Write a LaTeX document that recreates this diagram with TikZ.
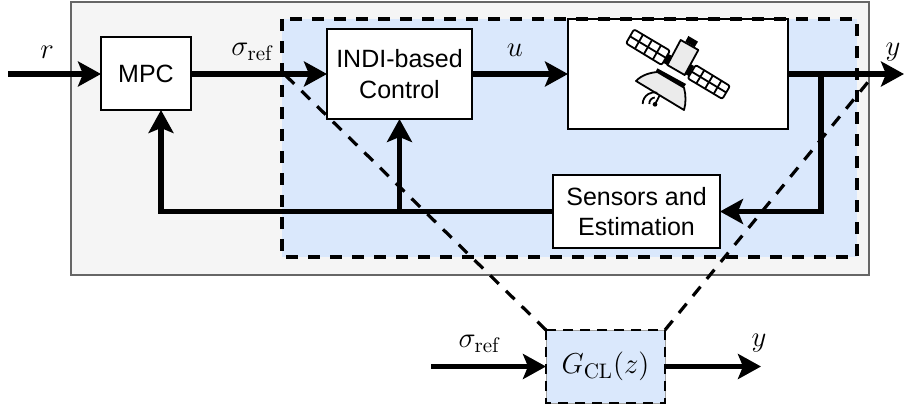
\documentclass[tikz,border=0pt]{standalone}
\usepackage{fontspec}
\newfontfamily\blockfont{Liberation Sans}
\usetikzlibrary{calc,arrows.meta}
\definecolor{outerfill}{HTML}{F5F5F5}
\definecolor{outerline}{HTML}{666666}
\definecolor{innerfill}{HTML}{DAE8FC}
\definecolor{dishfill}{HTML}{EBEBEB}
\tikzset{
	blockbox/.style={draw=black,fill=white,line width=1pt,inner sep=0pt,outer sep=0pt,align=center,font=\blockfont\fontsize{12.5}{15.2}\selectfont},
	signal/.style={->,line width=2.8pt},
	zoomline/.style={line width=1.6pt,dash pattern=on 6pt off 5pt},
	siglabel/.style={font=\fontsize{15}{18}\selectfont,inner sep=0pt}
}
\begin{document}
\begin{tikzpicture}[>={Stealth[length=11.5pt,width=12.5pt,inset=2.5pt]},line join=miter,x=0.5pt,y=-0.5pt]
	\useasboundingbox (0,0) rectangle (904,411);
	\draw[fill=outerfill,draw=outerline,line width=0.7pt] (71,2) rectangle (869,275);
	\fill[innerfill] (282,19) rectangle (857,257);
	% blocks
	\node[blockbox,minimum width=45pt,minimum height=36.5pt] (mpc) at (146,74) {MPC};
	\node[blockbox,minimum width=72.5pt,minimum height=45pt] (indi) at (399.5,74) {INDI-based\\Control};
	\node[blockbox,minimum width=110pt,minimum height=55pt] (sat) at (678,74) {};
	\node[blockbox,minimum width=83.5pt,minimum height=36.5pt] (sensors) at (636.5,211.5) {Sensors and\\Estimation};
	\node[draw=outerline!60,fill=innerfill,line width=0.5pt,inner sep=0pt,outer sep=0pt,minimum width=59.5pt,minimum height=36.5pt,font=\fontsize{15}{18}\selectfont] (gcl) at (605.5,366.5) {$G_{\mathrm{CL}}(z)$};
	\draw[line width=1.1pt,dash pattern=on 5pt off 3.5pt] (gcl.north west) rectangle (gcl.south east);
	\draw[zoomline] (282,19) rectangle (857,257);
	% satellite
	\begin{scope}[shift={(560,10)},x=0.16667pt,y=-0.16667pt,line width=0.9pt,line join=round]
		\fill (292,175)--(378,222)--(366,240)--(283,193)--cycle;
		\fill (318,128)--(340,140)--(326,168)--(306,156)--cycle;
		\fill (388,160)--(402,168)--(386,198)--(372,190)--cycle;
		\fill (385,78)--(414,95)--(404,111)--(376,95)--cycle;
		\draw[fill=dishfill] (362,90)--(415,120)--(374,195)--(322,165)--cycle;
		\draw[fill=dishfill] (228,213) .. controls (245,195) and (270,188) .. (292,186) -- (372,233) .. controls (378,255) and (378,280) .. (372,300) -- cycle;
		\coordinate (pa) at (222,58); \coordinate (pb) at (330,122);
		\coordinate (pc) at (305,165); \coordinate (pd) at (198,100);
		\coordinate (qa) at (407,165); \coordinate (qb) at (510,228);
		\coordinate (qc) at (487,267); \coordinate (qd) at (383,205);
		\draw[fill=white,rounded corners=1pt] (pa)--(pb)--(pc)--(pd)--cycle;
		\draw[fill=white,rounded corners=1pt] (qa)--(qb)--(qc)--(qd)--cycle;
		\foreach \t in {0.25,0.5,0.75}{
			\draw ($(pa)!\t!(pb)$)--($(pd)!\t!(pc)$);
			\draw ($(qa)!\t!(qb)$)--($(qd)!\t!(qc)$);
		}
		\draw ($(pa)!0.5!(pd)$)--($(pb)!0.5!(pc)$);
		\draw ($(qa)!0.5!(qd)$)--($(qb)!0.5!(qc)$);
		\draw (298,258)--(285,283);
		\fill (285,283) circle (7);
		\draw (268,282) arc[start angle=175,end angle=265,radius=18];
		\draw (248,282) arc[start angle=180,end angle=285,radius=35];
	\end{scope}
	% signals
	\coordinate (rin) at (8,74);
	\coordinate (yout) at (904,74);
	\coordinate (ysplit) at (821,74);
	\coordinate (ycorner) at (ysplit|-sensors.east);
	\coordinate (mpcin) at (161,110);
	\coordinate (fbcorner) at (mpcin|-sensors.west);
	\coordinate (fbsplit) at (indi.south|-sensors.west);
	\coordinate (sigin) at (431,366.5);
	\coordinate (yend) at (761,366.5);
	\coordinate (zoomleft) at (279,69);
	\coordinate (zoomright) at (868,82);
	\draw[signal] (rin)--(mpc.west);
	\draw[signal] (mpc.east)--(indi.west);
	\draw[signal] (indi.east)--(sat.west);
	\draw[signal] (sat.east)--(yout);
	\draw[signal] (ysplit)--(ycorner)--(sensors.east);
	\draw[signal] (sensors.west)--(fbcorner)--(mpcin);
	\draw[signal] (fbsplit)--(indi.south);
	\draw[signal] (sigin)--(gcl.west);
	\draw[signal] (gcl.east)--(yend);
	\draw[zoomline] (gcl.north west)--(zoomleft);
	\draw[zoomline] (gcl.north east)--(zoomright);
	% labels
	\node[siglabel] (rlabel) at (47,52) {$r$};
	\node[siglabel] (reflabel) at (252,52) {$\sigma_{\mathrm{ref}}$};
	\node[siglabel] (ulabel) at (515,50) {$u$};
	\node[siglabel] (ylabel) at (893,52) {$y$};
	\node[siglabel] (reflow) at (479,344) {$\sigma_{\mathrm{ref}}$};
	\node[siglabel] (ylow) at (759,343) {$y$};
\end{tikzpicture}
\end{document}
